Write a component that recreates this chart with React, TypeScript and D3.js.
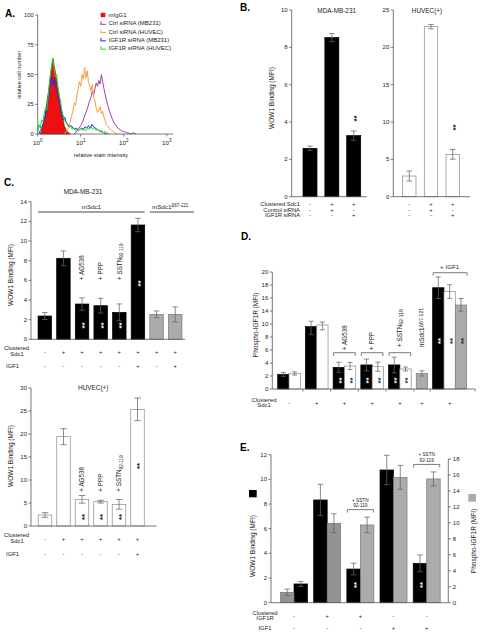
import React from 'react';
import * as d3 from 'd3';

const FONT = "'Liberation Sans', Arial, Helvetica, sans-serif";
const AX = '#555';
const ERR = '#666';

// ---------------- Panel A : flow histograms ----------------
const histNames = ['mIgG1', 'Ctrl siRNA (MB231)', 'Ctrl siRNA (HUVEC)', 'IGF1R siRNA (MB231)', 'IGF1R siRNA (HUVEC)'];
const histColors = ['#ee1010', '#a83ab8', '#ff9b40', '#2525ff', '#20dd20'];
const histXTicks = [1, 10, 100, 1000];
const histXTickExp = ['0', '1', '2', '3'];
const histYTicks = [0, 25, 50, 75, 100];
// [log10 intensity, relative cell number]
const histIgG = [[0.06,0],[0.09,3],[0.12,7],[0.15,12],[0.18,18],[0.21,26],[0.24,33],[0.27,41],[0.30,50],[0.33,56],[0.36,63],[0.38,58],[0.41,52],[0.44,45],[0.47,38],[0.50,31],[0.53,24],[0.56,17],[0.59,12],[0.62,7],[0.65,4],[0.68,2],[0.72,1],[0.76,0]];
const histCtrlMB = [[0.84,0],[0.88,1],[0.92,3],[0.96,5],[1.00,7],[1.04,10],[1.08,14],[1.12,18],[1.16,22],[1.20,27],[1.24,31],[1.27,36],[1.30,33],[1.33,38],[1.36,43],[1.39,40],[1.42,45],[1.45,42],[1.48,50],[1.51,44],[1.54,38],[1.57,33],[1.60,28],[1.63,24],[1.66,20],[1.70,16],[1.74,12],[1.78,9],[1.82,7],[1.86,5],[1.90,4],[1.94,3],[1.98,2],[2.02,2],[2.06,1],[2.10,1],[2.15,0],[2.22,1],[2.28,0]];
const histCtrlHU = [[0.62,0],[0.66,2],[0.70,4],[0.74,8],[0.78,14],[0.82,20],[0.85,26],[0.88,24],[0.91,32],[0.94,38],[0.97,44],[1.00,40],[1.03,50],[1.06,46],[1.09,56],[1.12,47],[1.15,53],[1.18,44],[1.21,40],[1.24,36],[1.27,42],[1.30,31],[1.33,28],[1.36,22],[1.39,18],[1.42,20],[1.45,23],[1.48,17],[1.51,19],[1.54,14],[1.57,11],[1.60,8],[1.64,6],[1.68,4],[1.72,3],[1.76,2],[1.80,1],[1.86,0]];
const histIgfMB = [[0.03,0],[0.06,3],[0.09,5],[0.12,8],[0.15,12],[0.18,15],[0.21,22],[0.24,28],[0.27,36],[0.30,44],[0.33,48],[0.36,41],[0.39,46],[0.42,40],[0.45,35],[0.48,30],[0.51,26],[0.54,20],[0.57,15],[0.60,12],[0.63,14],[0.66,10],[0.70,8],[0.74,6],[0.78,7],[0.82,5],[0.86,4],[0.90,5],[0.94,3],[0.98,4],[1.02,5],[1.06,4],[1.10,6],[1.14,5],[1.18,7],[1.22,5],[1.26,8],[1.30,6],[1.34,5],[1.38,4],[1.42,3],[1.46,2],[1.50,2],[1.54,1],[1.60,0]];
const histIgfHU = [[0.00,2],[0.03,8],[0.06,5],[0.09,12],[0.12,10],[0.15,17],[0.18,22],[0.21,20],[0.24,30],[0.27,42],[0.30,52],[0.33,60],[0.35,64],[0.38,55],[0.41,48],[0.44,50],[0.47,40],[0.50,33],[0.53,28],[0.56,20],[0.59,16],[0.62,12],[0.65,10],[0.68,8],[0.72,6],[0.76,7],[0.80,4],[0.84,5],[0.88,3],[0.92,4],[0.96,3],[1.00,5],[1.04,3],[1.08,4],[1.12,3],[1.16,5],[1.20,4],[1.24,6],[1.28,4],[1.32,5],[1.36,3],[1.40,4],[1.44,2],[1.48,3],[1.52,1],[1.56,2],[1.60,1],[1.66,0]];

// ---------------- Panel B ----------------
const bRowLabels = ['Clustered Sdc1', 'Control siRNA', 'IGF1R siRNA'];
const bSigns = [['-', '+', '+'], ['-', '+', '-'], ['-', '-', '+']];
const bMdaValues = [2.59, 8.52, 3.27];
const bMdaErr = [0.12, 0.22, 0.25];
const bHuvValues = [2.77, 22.77, 5.67];
const bHuvErr = [0.67, 0.29, 0.65];
const bMdaTicks = [0, 2, 4, 6, 8, 10];
const bHuvTicks = [0, 5, 10, 15, 20, 25];
const bSig = [false, false, true];

// ---------------- Panel C ----------------
const cMdaValues = [2.37, 8.24, 3.59, 3.42, 2.74, 11.63, 2.54, 2.54];
const cMdaErr = [0.35, 0.75, 0.63, 0.75, 0.86, 0.68, 0.34, 0.76];
const cMdaConstruct = ['wt', 'wt', 'wt', 'wt', 'wt', 'wt', 'del', 'del'];
const cMdaClustered = ['-', '+', '+', '+', '+', '+', '+', '+'];
const cMdaIgf1 = ['-', '-', '-', '-', '-', '+', '-', '+'];
const cMdaSig = [false, false, true, true, true, true, false, false];
const cTreat = ['', '', '+ AG538', '+ PPP', '+ SSTN', '', '', ''];
const cTreatSub = ['', '', '', '', '92-119', '', '', ''];
const cMdaTicks = [0, 2, 4, 6, 8, 10, 12, 14];
const cHuvValues = [2.39, 19.42, 5.8, 5.29, 4.71, 25.36];
const cHuvErr = [0.5, 1.74, 0.83, 0.3, 1.05, 2.46];
const cHuvClustered = ['-', '+', '+', '+', '+', '+'];
const cHuvIgf1 = ['-', '-', '-', '-', '-', '+'];
const cHuvSig = [false, false, true, true, true, true];
const cHuvTicks = [0, 5, 10, 15, 20, 25, 30];

// ---------------- Panel D ----------------
const dValues = [[2.25, 2.4], [9.6, 9.85], [3.33, 3.54], [3.7, 3.43], [3.7, 3.08], [2.4], [17.58, 17.0, 14.92]];
const dErr = [[0.3, 0.25], [1.25, 0.75], [0.77, 0.55], [0.9, 0.7], [1.2, 0.3], [0.4], [1.66, 1.05, 1.0]];
const dKind = [['k', 'w'], ['k', 'w'], ['k', 'w'], ['k', 'w'], ['k', 'w'], ['g'], ['k', 'w', 'g']];
const dSig = [false, false, true, true, true, false, true];
const dClustered = ['-', '+', '+', '+', '+', '+', '+'];
const dTreat = ['', '', '+ AG538', '+ PPP', '+ SSTN', 'mSdc1', ''];
const dTreatSub = ['', '', '', '', '92-119', 'Δ67-121', ''];
const dTickValues = [0, 2, 4, 6, 8, 10, 14, 16, 18, 20];

// ---------------- Panel E ----------------
const eWow = [1.52, 8.33, 2.73, 10.76, 3.19];
const eWowErr = [0.2, 1.27, 0.47, 1.19, 0.68];
const ePhos = [1.3, 9.95, 9.74, 15.7, 15.5];
const ePhosErr = [0.4, 1.19, 0.98, 1.5, 0.88];
const ePhosFirst = [true, false, false, false, false];
const eClustered = ['-', '+', '+', '-', '-'];
const eIgf1 = ['-', '-', '-', '+', '+'];
const eSig = [false, false, true, false, true];
const eSstn = [false, false, true, false, true];
const eLeftTicks = [0, 2, 4, 6, 8, 10, 12];
const eRightTicks = [0, 2, 4, 6, 8, 10, 12, 14, 16, 18];

// ---------------- helpers ----------------
function YAxis({ x, y0, y1, ticks, scale, labels, right = false, fs = 6 }: any) {
  return (
    <g>
      <line x1={x} x2={x} y1={y0} y2={y1} stroke={AX} strokeWidth={0.8} />
      {ticks.map((t: number, i: number) => (
        <g key={i}>
          <line x1={right ? x : x - 2.5} x2={right ? x + 2.5 : x} y1={scale(t)} y2={scale(t)} stroke={AX} strokeWidth={0.8} />
          <text x={right ? x + 4.5 : x - 4} y={scale(t)} dy="0.35em" textAnchor={right ? 'start' : 'end'} fontSize={fs} fill="#222">
            {labels ? labels[i] : t}
          </text>
        </g>
      ))}
    </g>
  );
}

function ErrBar({ cx, top, bot, cap = 5.5, color = ERR }: any) {
  return (
    <g stroke={color} strokeWidth={0.75}>
      <line x1={cx} x2={cx} y1={top} y2={bot} />
      <line x1={cx - cap / 2} x2={cx + cap / 2} y1={top} y2={top} />
      <line x1={cx - cap / 2} x2={cx + cap / 2} y1={bot} y2={bot} />
    </g>
  );
}

function VText({ x, y, children, anchor = 'start', fs = 6.3, fill = '#222', dy = '0.35em' }: any) {
  return (
    <text transform={`translate(${x},${y}) rotate(-90)`} textAnchor={anchor} dy={dy} fontSize={fs} fill={fill}>
      {children}
    </text>
  );
}

function Stars({ x, y, fill = '#000' }: any) {
  return (
    <VText x={x} y={y} anchor="middle" fs={8} dy="0.62em" fill={fill}>
      <tspan fontWeight="bold">**</tspan>
    </VText>
  );
}

function Bar({ x0, x1, yTop, yBase, kind }: any) {
  const fill = kind === 'k' ? '#000' : kind === 'w' ? '#fff' : kind === 'g2' ? '#939393' : '#ababab';
  const stroke = kind === 'k' ? '#000' : kind === 'w' ? '#8a8a8a' : '#7a7a7a';
  return <rect x={x0} y={yTop} width={x1 - x0} height={yBase - yTop} fill={fill} stroke={stroke} strokeWidth={0.7} />;
}

// ---------------- Panel A ----------------
function PanelA() {
  const xA = d3.scaleLog().domain([1, 1000]).range([37.7, 166.8]);
  const yA = d3.scaleLinear().domain([0, 100]).range([134, 15]);
  const line = d3.line<number[]>().x(d => xA(Math.pow(10, d[0]))).y(d => yA(d[1]));
  const area = d3.area<number[]>().x(d => xA(Math.pow(10, d[0]))).y0(yA(0)).y1(d => yA(d[1]));
  const lines = [histCtrlMB, histCtrlHU, histIgfMB, histIgfHU];
  return (
    <g>
      <text x={5} y={17} fontSize={10} fontWeight="bold">A.</text>
      <path d={area(histIgG as any) || ''} fill={histColors[0]} stroke="#8a1010" strokeWidth={0.7} />
      {lines.map((s, i) => (
        <path key={i} d={line(s as any) || ''} fill="none" stroke={histColors[i + 1]} strokeWidth={1} />
      ))}
      <YAxis x={37.7} y0={15} y1={134} ticks={histYTicks} scale={yA} fs={5.8} />
      <line x1={37.7} x2={173} y1={134} y2={134} stroke={AX} strokeWidth={0.8} />
      {histXTicks.map((t, i) => (
        <g key={i}>
          <line x1={xA(t)} x2={xA(t)} y1={134} y2={136.5} stroke={AX} strokeWidth={0.8} />
          <text x={xA(t)} y={145} textAnchor="middle" fontSize={6.2} fill="#222">
            10<tspan fontSize={4.5} dy={-2.6}>{histXTickExp[i]}</tspan>
          </text>
        </g>
      ))}
      <VText x={19} y={75} anchor="middle" fs={5.6}>relative cell number</VText>
      <text x={101} y={157} textAnchor="middle" fontSize={5.7} fill="#222">relative stain intensity</text>
      {histNames.map((n, i) => {
        const cy = 15 + i * 8.3;
        return (
          <g key={n}>
            {i === 0 ? (
              <rect x={100.7} y={cy - 2.2} width={4.6} height={4.4} fill={histColors[0]} />
            ) : (
              <g stroke={histColors[i]} fill="none" strokeWidth={1}>
                <line x1={100.5} x2={106} y1={cy + 1} y2={cy + 1} />
                <line x1={101} x2={101} y1={cy - 2} y2={cy + 1} />
              </g>
            )}
            <text x={108.5} y={cy} dy="0.35em" fontSize={6} fill="#222">{n}</text>
          </g>
        );
      })}
    </g>
  );
}

// ---------------- Panel B ----------------
function PanelB() {
  const base = 196.7;
  const yL = d3.scaleLinear().domain([0, 10]).range([base, 10]);
  const yR = d3.scaleLinear().domain([0, 25]).range([base, 10]);
  const xL = d3.scalePoint<number>().domain([0, 1, 2]).range([310, 353.7]);
  const xR = d3.scalePoint<number>().domain([0, 1, 2]).range([409.3, 452.7]);
  const w = 14;
  return (
    <g>
      <text x={240} y={11} fontSize={10} fontWeight="bold">B.</text>
      <text x={336.7} y={12.5} textAnchor="middle" fontSize={6.4} fill="#222">MDA-MB-231</text>
      <text x={427} y={12.5} textAnchor="middle" fontSize={6.4} fill="#222">HUVEC(+)</text>
      <VText x={271.7} y={98} anchor="middle" fs={6.5}>WOW1 Binding (MFI)</VText>
      {bMdaValues.map((v, i) => (
        <g key={'l' + i}>
          <Bar x0={xL(i)! - w / 2} x1={xL(i)! + w / 2} yTop={yL(v)} yBase={base} kind="k" />
          <ErrBar cx={xL(i)} top={yL(v + bMdaErr[i])} bot={yL(v - bMdaErr[i])} />
          {bSig[i] && <Stars x={xL(i)} y={yL(v + bMdaErr[i]) - 12.5} />}
        </g>
      ))}
      {bHuvValues.map((v, i) => (
        <g key={'r' + i}>
          <Bar x0={xR(i)! - 6.7} x1={xR(i)! + 6.7} yTop={yR(v)} yBase={base} kind="w" />
          <ErrBar cx={xR(i)} top={yR(v + bHuvErr[i])} bot={yR(v - bHuvErr[i])} />
          {bSig[i] && <Stars x={xR(i)} y={yR(v + bHuvErr[i]) - 22} />}
        </g>
      ))}
      <YAxis x={291.7} y0={10} y1={base} ticks={bMdaTicks} scale={yL} />
      <line x1={291.7} x2={366.7} y1={base} y2={base} stroke={AX} strokeWidth={0.8} />
      <YAxis x={393.3} y0={10} y1={base} ticks={bHuvTicks} scale={yR} />
      <line x1={393.3} x2={470} y1={base} y2={base} stroke={AX} strokeWidth={0.8} />
      {bRowLabels.map((lab, r) => {
        const y = 206.3 + r * 5.3;
        return (
          <g key={lab}>
            <text x={300} y={y} textAnchor="end" fontSize={5.8} fill="#222">{lab}</text>
            {bSigns[r].map((s, i) => (
              <g key={i}>
                <text x={xL(i)} y={y} textAnchor="middle" fontSize={5.8} fill="#222">{s}</text>
                <text x={xR(i)} y={y} textAnchor="middle" fontSize={5.8} fill="#222">{s}</text>
              </g>
            ))}
          </g>
        );
      })}
      <text x={241} y={240} fontSize={10} fontWeight="bold">D.</text>
    </g>
  );
}

// ---------------- Panel C ----------------
function PanelC() {
  const baseT = 339.3;
  const yT = d3.scaleLinear().domain([0, 14]).range([baseT, 201.7]);
  const xT = d3.scalePoint<number>().domain(d3.range(cMdaValues.length)).range([44.8, 175.2]);
  const baseB = 526;
  const yB = d3.scaleLinear().domain([0, 30]).range([baseB, 388]);
  const xB = d3.scalePoint<number>().domain(d3.range(cHuvValues.length)).range([45, 137.5]);
  const w = 13.5;
  return (
    <g>
      <text x={4} y={186} fontSize={10} fontWeight="bold">C.</text>
      <text x={83} y={193.5} textAnchor="middle" fontSize={6.4} fill="#222">MDA-MB-231</text>
      <line x1={xT(0)! - w / 2} x2={xT(5)! + w / 2} y1={212} y2={212} stroke="#333" strokeWidth={0.9} />
      <text x={(xT(0)! + xT(5)!) / 2} y={209.3} textAnchor="middle" fontSize={6.2} fill="#222">mSdc1</text>
      <line x1={xT(6)! - w / 2} x2={xT(7)! + w / 2 + 12} y1={212} y2={212} stroke="#333" strokeWidth={0.9} />
      <text x={xT(6)! - 4.5} y={209.3} fontSize={6.2} fill="#222">mSdc1<tspan fontSize={4.5} dy={-2.5}>Δ67-121</tspan></text>
      <VText x={10.7} y={275} anchor="middle" fs={6.5}>WOW1 Binding (MFI)</VText>
      {cMdaValues.map((v, i) => {
        const cx = xT(i)!;
        return (
          <g key={i}>
            <Bar x0={cx - w / 2} x1={cx + w / 2} yTop={yT(v)} yBase={baseT} kind={cMdaConstruct[i] === 'wt' ? 'k' : 'g'} />
            <ErrBar cx={cx} top={yT(v + cMdaErr[i])} bot={yT(v - cMdaErr[i])} />
            {cTreat[i] && (
              <VText x={cx} y={280}>
                {cTreat[i]}
                {cTreatSub[i] && <tspan fontSize={4.7} dy={1.6}>{cTreatSub[i]}</tspan>}
              </VText>
            )}
            {cMdaSig[i] && <Stars x={cx} y={cMdaIgf1[i] === '+' ? 283.5 : 325.5} fill="#fff" />}
            <text x={cx} y={353.5} textAnchor="middle" fontSize={5.8} fill="#222">{cMdaClustered[i]}</text>
            <text x={cx} y={368} textAnchor="middle" fontSize={5.8} fill="#222">{cMdaIgf1[i]}</text>
          </g>
        );
      })}
      <YAxis x={31} y0={201.7} y1={baseT} ticks={cMdaTicks} scale={yT} />
      <line x1={31} x2={185} y1={baseT} y2={baseT} stroke={AX} strokeWidth={0.8} />
      <text x={16.5} y={350.2} textAnchor="middle" fontSize={5.9} fill="#222">Clustered</text>
      <text x={17} y={355.6} textAnchor="middle" fontSize={5.9} fill="#222">Sdc1</text>
      <text x={6} y={368} fontSize={5.9} fill="#222">IGF1</text>

      <text x={93.3} y={389.5} textAnchor="middle" fontSize={6.4} fill="#222">HUVEC(+)</text>
      <VText x={10.7} y={456} anchor="middle" fs={6.5}>WOW1 Binding (MFI)</VText>
      {cHuvValues.map((v, i) => {
        const cx = xB(i)!;
        return (
          <g key={i}>
            <Bar x0={cx - w / 2} x1={cx + w / 2} yTop={yB(v)} yBase={baseB} kind="w" />
            <ErrBar cx={cx} top={yB(v + cHuvErr[i])} bot={yB(v - cHuvErr[i])} cap={6.5} />
            {cTreat[i] && (
              <VText x={cx} y={491.7}>
                {cTreat[i]}
                {cTreatSub[i] && <tspan fontSize={4.7} dy={1.6}>{cTreatSub[i]}</tspan>}
              </VText>
            )}
            {cHuvSig[i] && <Stars x={cx} y={cHuvIgf1[i] === '+' ? 466 : 517} fill="#111" />}
            <text x={cx} y={540.5} textAnchor="middle" fontSize={5.8} fill="#222">{cHuvClustered[i]}</text>
            <text x={cx} y={556} textAnchor="middle" fontSize={5.8} fill="#222">{cHuvIgf1[i]}</text>
          </g>
        );
      })}
      <YAxis x={31} y0={388} y1={baseB} ticks={cHuvTicks} scale={yB} />
      <line x1={31} x2={156.7} y1={baseB} y2={baseB} stroke={AX} strokeWidth={0.8} />
      <text x={16.5} y={537} textAnchor="middle" fontSize={5.9} fill="#222">Clustered</text>
      <text x={17} y={542.5} textAnchor="middle" fontSize={5.9} fill="#222">Sdc1</text>
      <text x={6} y={556} fontSize={5.9} fill="#222">IGF1</text>
    </g>
  );
}

// ---------------- Panel D ----------------
function PanelD() {
  const base = 389;
  const yD = d3.scaleLinear().domain([0, 10, 14, 20]).range([base, 324, 311, 272]);
  const gap = 0.45;
  const starts: number[] = [];
  let acc = 0;
  dValues.forEach((g, i) => {
    starts.push(acc);
    acc += g.length + (i < dValues.length - 1 ? gap : 0);
  });
  const xS = d3.scaleLinear().domain([0, acc]).range([277.7, 466.6]);
  const centers = dValues.map((g, i) => xS(starts[i] + g.length / 2));
  const bounds = dValues.slice(1).map((g, i) => xS(starts[i + 1] - gap / 2));
  return (
    <g>
      <VText x={255.5} y={325} anchor="middle" fs={6.5}>Phospho-IGF1R (MFI)</VText>
      {dValues.map((g, gi) => (
        <g key={gi}>
          {g.map((v, bi) => {
            const x0 = xS(starts[gi] + bi);
            const x1 = xS(starts[gi] + bi + 1);
            const cx = (x0 + x1) / 2;
            const k = dKind[gi][bi];
            return (
              <g key={bi}>
                <Bar x0={x0} x1={x1} yTop={yD(v)} yBase={base} kind={k} />
                <ErrBar cx={cx} top={yD(v + dErr[gi][bi])} bot={yD(v - dErr[gi][bi])} cap={5} />
                {dSig[gi] && <Stars x={cx} y={v > 12 ? 341 : 380.5} fill={k === 'k' ? '#fff' : '#222'} />}
              </g>
            );
          })}
          {dTreat[gi] && (
            <VText x={centers[gi]} y={dTreatSub[gi] ? 347 : 350}>
              {dTreat[gi]}
              {dTreatSub[gi] && (
                <tspan fontSize={5.2} dy={dTreat[gi] === 'mSdc1' ? -1.5 : 1.3}>{dTreatSub[gi]}</tspan>
              )}
            </VText>
          )}
          {dTreat[gi].startsWith('+') && (
            <path
              d={`M${xS(starts[gi]) + 0.5},356 V352.7 H${xS(starts[gi] + g.length) - 0.5} V356`}
              fill="none" stroke="#444" strokeWidth={0.7}
            />
          )}
          <text x={centers[gi]} y={405.3} textAnchor="middle" fontSize={5.8} fill="#222">{dClustered[gi]}</text>
        </g>
      ))}
      <path
        d={`M${xS(starts[6]) + 0.5},275.5 V272.7 H${xS(acc) + 0.5} V275.5`}
        fill="none" stroke="#444" strokeWidth={0.7}
      />
      <text x={centers[6]} y={268.5} textAnchor="middle" fontSize={6.2} fill="#222">+ IGF1</text>
      <YAxis x={272.3} y0={272} y1={base} ticks={dTickValues} scale={yD} />
      <line x1={272.3} x2={475} y1={base} y2={base} stroke={AX} strokeWidth={0.8} />
      {bounds.concat([475]).map((b, i) => (
        <line key={i} x1={b} x2={b} y1={base} y2={base + 2.5} stroke={AX} strokeWidth={0.8} />
      ))}
      <text x={264} y={402} textAnchor="middle" fontSize={5.9} fill="#222">Clustered</text>
      <text x={264} y={407.3} textAnchor="middle" fontSize={5.9} fill="#222">Sdc1</text>
    </g>
  );
}

// ---------------- Panel E ----------------
function PanelE() {
  const base = 602.7;
  const yL = d3.scaleLinear().domain([0, 12]).range([base, 454.7]);
  const yR = d3.scaleLinear().domain([0, 18]).range([base, 459]);
  const xE = d3.scalePoint<number>().domain(d3.range(eWow.length)).range([294, 426.7]);
  const w = 13.5;
  return (
    <g>
      <text x={240} y={450.5} fontSize={10} fontWeight="bold">E.</text>
      {eWow.map((v, i) => {
        const c = xE(i)!;
        const wx0 = ePhosFirst[i] ? c : c - w;
        const px0 = ePhosFirst[i] ? c - w : c;
        const p = ePhos[i];
        const errTop = yR(p + ePhosErr[i]);
        return (
          <g key={i}>
            <Bar x0={wx0} x1={wx0 + w} yTop={yL(v)} yBase={base} kind="k" />
            <ErrBar cx={wx0 + w / 2} top={yL(v + eWowErr[i])} bot={yL(v - eWowErr[i])} cap={5.5} />
            <Bar x0={px0} x1={px0 + w} yTop={yR(p)} yBase={base} kind={i < 2 ? 'g2' : 'g'} />
            <ErrBar cx={px0 + w / 2} top={errTop} bot={yR(p - ePhosErr[i])} cap={5.5} />
            {eSig[i] && <Stars x={wx0 + w / 2} y={585} fill="#fff" />}
            {eSstn[i] && (
              <g>
                <path d={`M${c - w + 0.5},${errTop - 4.5} V${errTop - 7.5} H${c + w - 0.5} V${errTop - 4.5}`} fill="none" stroke="#444" strokeWidth={0.7} />
                <text x={c} y={errTop - 15.5} textAnchor="middle" fontSize={4.7} fill="#222">+ SSTN</text>
                <text x={c} y={errTop - 10} textAnchor="middle" fontSize={4.7} fill="#222">92-119</text>
              </g>
            )}
            <text x={c} y={618} textAnchor="middle" fontSize={5.8} fill="#222">{eClustered[i]}</text>
            <text x={c} y={630} textAnchor="middle" fontSize={5.8} fill="#222">{eIgf1[i]}</text>
          </g>
        );
      })}
      <YAxis x={271} y0={454.7} y1={base} ticks={eLeftTicks} scale={yL} />
      <YAxis x={448.3} y0={459} y1={base} ticks={eRightTicks} scale={yR} right />
      <line x1={271} x2={448.3} y1={base} y2={base} stroke={AX} strokeWidth={0.8} />
      <rect x={249} y={490} width={7.7} height={7.3} fill="#000" />
      <VText x={253} y={546} anchor="middle" fs={6.5}>WOW1 Binding (MFI)</VText>
      <rect x={468.3} y={494} width={7.7} height={7.7} fill="#ababab" />
      <VText x={473.3} y={541} anchor="middle" fs={6.5}>Phospho-IGF1R (MFI)</VText>
      <text x={265} y={614.5} textAnchor="middle" fontSize={5.9} fill="#222">Clustered</text>
      <text x={265} y={620} textAnchor="middle" fontSize={5.9} fill="#222">IGF1R</text>
      <text x={265} y={630} textAnchor="middle" fontSize={5.9} fill="#222">IGF1</text>
    </g>
  );
}

export default function App() {
  return (
    <div style={{ position: 'absolute', left: 0, top: 0 }}>
      <svg width={480} height={636} style={{ display: 'block', background: '#fff' }} fontFamily={FONT}>
        <PanelA />
        <PanelB />
        <PanelC />
        <PanelD />
        <PanelE />
      </svg>
    </div>
  );
}
